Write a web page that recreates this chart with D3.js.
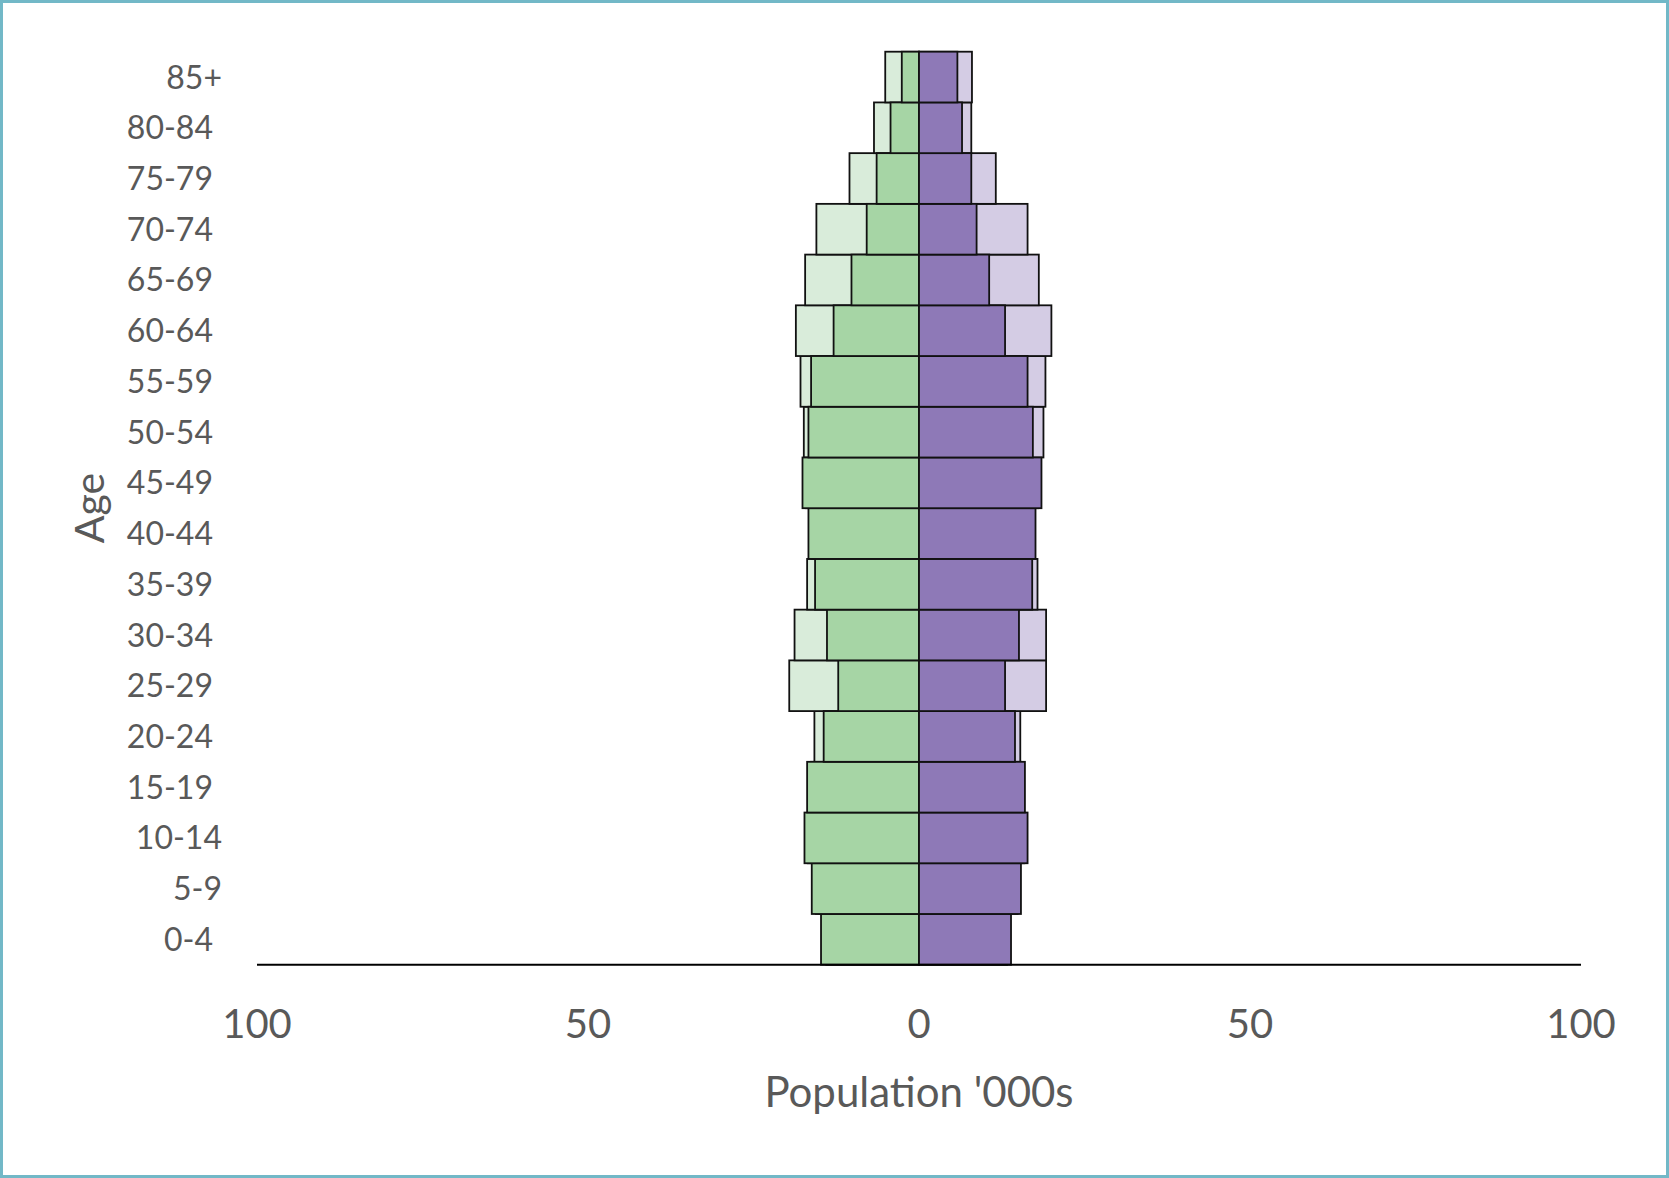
<!DOCTYPE html>
<html>
<head>
<meta charset="utf-8">
<script src="https://cdn.jsdelivr.net/npm/d3@7"></script>
<style>
  html, body { margin: 0; padding: 0; background: #fff; }
  svg { display: block; }
  text { font-family: Lato, "Open Sans", sans-serif; fill: #595959; }
</style>
</head>
<body>
<div id="chart"></div>
<script>
// Age groups, bottom to top
var AGES = ["0-4", "5-9", "10-14", "15-19", "20-24", "25-29", "30-34", "35-39", "40-44",
            "45-49", "50-54", "55-59", "60-64", "65-69", "70-74", "75-79", "80-84", "85+"];

// Left side (green) — back = light bar, front = darker bar drawn on top
var LEFT_BACK  = [14.0, 15.6, 16.8, 16.3, 15.8, 19.6, 18.8, 16.9, 16.2, 17.1, 17.4, 17.9, 18.6, 17.2, 15.5, 10.5, 6.8, 5.1];
var LEFT_FRONT = [14.8, 16.2, 17.3, 16.9, 14.4, 12.2, 13.9, 15.7, 16.7, 17.6, 16.7, 16.3, 12.9, 10.2, 7.9, 6.4, 4.3, 2.6];

// Right side (purple)
var RIGHT_FRONT = [13.9, 15.4, 16.4, 16.0, 14.5, 13.0, 15.1, 17.1, 17.6, 18.5, 17.2, 16.4, 13.0, 10.6, 8.7, 7.9, 6.5, 5.8];
var RIGHT_BACK  = [13.3, 14.9, 15.9, 15.4, 15.3, 19.2, 19.2, 17.9, 17.0, 18.0, 18.8, 19.1, 20.0, 18.1, 16.4, 11.6, 7.9, 8.0];

var X_TICKS = [-100, -50, 0, 50, 100];

var W = 1669, H = 1178;
var svg = d3.select("#chart").append("svg")
  .attr("width", W).attr("height", H);

// outer frame
svg.append("rect")
  .attr("x", 1.5).attr("y", 1.5)
  .attr("width", W - 3).attr("height", H - 3)
  .attr("fill", "#fff")
  .attr("stroke", "#72b8c7")
  .attr("stroke-width", 3);

var x = d3.scaleLinear().domain([-100, 100]).range([257, 1581]);
var y = d3.scaleBand().domain(AGES.slice().reverse()).range([51.7, 964.7]).padding(0);

var STROKE = "#111";

function drawBars(values, side, fill) {
  svg.append("g").selectAll("rect")
    .data(values)
    .enter().append("rect")
    .attr("x", function(d) { return side < 0 ? x(-d) : x(0); })
    .attr("y", function(d, i) { return y(AGES[i]); })
    .attr("width", function(d) { return x(d) - x(0); })
    .attr("height", y.bandwidth())
    .attr("fill", fill)
    .attr("stroke", STROKE)
    .attr("stroke-width", 1.8);
}

drawBars(LEFT_BACK, -1, "#d9ecda");
drawBars(RIGHT_BACK, 1, "#d4cce4");
drawBars(LEFT_FRONT, -1, "#a6d5a5");
drawBars(RIGHT_FRONT, 1, "#8e79b7");

// x axis line
svg.append("line")
  .attr("x1", x(-100)).attr("x2", x(100))
  .attr("y1", 964.7).attr("y2", 964.7)
  .attr("stroke", "#000")
  .attr("stroke-width", 2);

// tick labels (absolute values on both sides)
svg.append("g").selectAll("text")
  .data(X_TICKS)
  .enter().append("text")
  .attr("x", function(d) { return x(d); })
  .attr("y", 1038)
  .attr("text-anchor", "middle")
  .attr("font-size", "40px")
  .text(function(d) { return Math.abs(d); });

// category labels — Excel nudges a few of them slightly right
var LABEL_NUDGE = { "85+": 9, "10-14": 9, "5-9": 9 };
svg.append("g").selectAll("text")
  .data(AGES)
  .enter().append("text")
  .attr("x", function(d) { return 213 + (LABEL_NUDGE[d] || 0); })
  .attr("y", function(d) { return y(d) + y.bandwidth() / 2; })
  .attr("dy", "0.36em")
  .attr("text-anchor", "end")
  .attr("font-size", "32px")
  .text(function(d) { return d; });

// axis titles
svg.append("text")
  .attr("x", x(0))
  .attr("y", 1107)
  .attr("text-anchor", "middle")
  .attr("font-size", "42px")
  .text("Population '000s");

svg.append("text")
  .attr("transform", "translate(104,508) rotate(-90)")
  .attr("text-anchor", "middle")
  .attr("font-size", "41px")
  .text("Age");
</script>
</body>
</html>
